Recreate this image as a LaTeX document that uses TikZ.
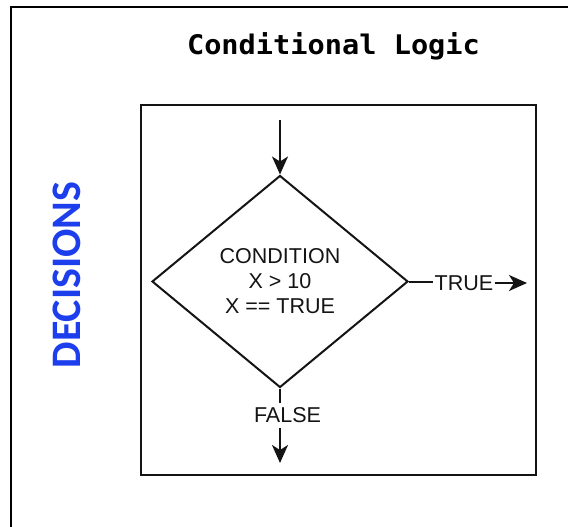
\documentclass[tikz,border=0pt]{standalone}
\usepackage{fontspec}
\setmainfont{Liberation Sans}
\newfontfamily\titlefont{DejaVu Sans Mono}
\newfontfamily\decfont{Carlito}
\usetikzlibrary{shapes.geometric,arrows.meta}
\definecolor{decblue}{RGB}{28,62,236}
\definecolor{ink}{RGB}{20,20,20}
\begin{document}
\begin{tikzpicture}[x=1pt,y=-1pt,
  frame/.style={draw=black,line width=2.8pt},
  panel/.style={draw=ink,line width=2.2pt},
  decision/.style={diamond,draw=ink,line width=2pt,inner sep=0pt,
     minimum width=256pt,minimum height=212pt,align=center,
     font=\fontsize{21.5}{25}\selectfont,text=ink},
  lbl/.style={inner xsep=1.5pt,inner ysep=5pt,font=\fontsize{21.5}{25}\selectfont,text=ink},
  flow/.style={line width=2pt,draw=ink},
  arrowflow/.style={flow,-{Stealth[length=18pt,width=16pt,inset=5pt]}}]
\useasboundingbox (0,0) rectangle (568,527);
\fill[white] (0,0) rectangle (568,527);
% outer frame (cropped on right and bottom)
\draw[frame] (570,7) -- (11,7) -- (11,529);
% title
\node[font=\titlefont\bfseries\fontsize{27}{30}\selectfont,xscale=1.06] (title) at (333.5,46) {Conditional Logic};
% side label
\node[font=\decfont\bfseries\fontsize{42}{46}\selectfont,text=decblue,rotate=90] (dec) at (67,275) {DECISIONS};
% panel
\draw[panel] (141,105) rectangle (536,475);
% flowchart
\coordinate (start) at (280,120);
\node[decision] (cond) at (280,281.5) {CONDITION\\X > 10\\X == TRUE};
\node[lbl,anchor=west] (truelbl) at (433,283) {TRUE};
\coordinate (trueend) at (527,283);
\node[lbl] (falselbl) at (287.5,415.5) {FALSE};
\coordinate (falseend) at (280,463);
\draw[arrowflow] (start) -- (cond.north);
\draw[flow] (cond.east) -- (cond.east -| truelbl.west);
\draw[arrowflow] (truelbl.east) -- (trueend);
\draw[flow] (cond.south) -- (cond.south |- falselbl.north);
\draw[arrowflow] (cond.south |- falselbl.south) -- (falseend);
\end{tikzpicture}
\end{document}
